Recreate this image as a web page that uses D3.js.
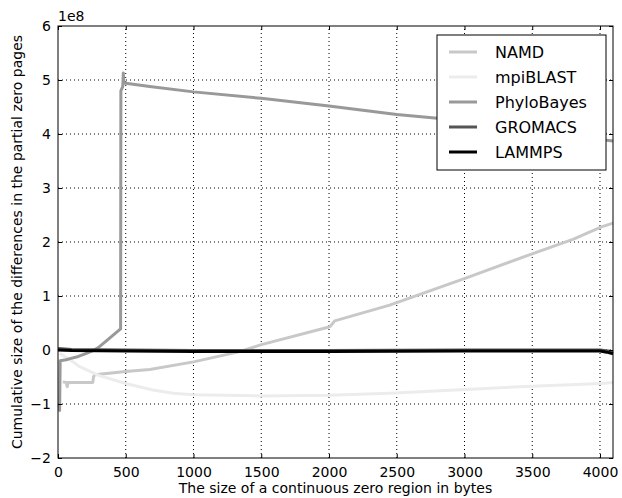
<!DOCTYPE html>
<html>
<head>
<meta charset="utf-8">
<script src="https://cdn.jsdelivr.net/npm/d3@7"></script>
<style>
  body { margin: 0; background: #fff; }
  text { font-family: "DejaVu Sans", sans-serif; }
</style>
</head>
<body>
<div id="chart"></div>
<script>
// series names + colours (grayscale)
const seriesNames = ["NAMD", "mpiBLAST", "PhyloBayes", "GROMACS", "LAMMPS"];
const seriesColors = ["#c8c8c8", "#ececec", "#999999", "#555555", "#000000"];

// [bytes, value in 1e8]
const namd = [[35,-0.59],[60,-0.6],[68,-0.68],[75,-0.6],[150,-0.6],[257,-0.6],[262,-0.5],[270,-0.46],[500,-0.4],[677,-0.36],[1000,-0.22],[1341,-0.03],[1501,0.1],[1993,0.42],[2010,0.44],[2042,0.54],[2448,0.83],[3009,1.33],[3509,1.79],[3800,2.05],[4011,2.28],[4096,2.35]];
const mpiblast = [[13,-0.06],[60,-0.14],[111,-0.22],[160,-0.31],[300,-0.47],[500,-0.62],[700,-0.74],[849,-0.8],[1000,-0.83],[1500,-0.85],[2000,-0.84],[2448,-0.8],[3009,-0.73],[3500,-0.67],[4011,-0.62],[4096,-0.6]];
const phylobayes = [[8,-1.0],[12,-1.12],[16,-0.2],[60,-0.18],[90,-0.16],[150,-0.12],[200,-0.07],[250,-0.02],[295,0.04],[357,0.17],[418,0.3],[462,0.39],[464,4.8],[478,4.88],[482,5.13],[486,4.95],[500,4.94],[677,4.88],[1000,4.78],[1500,4.66],[2000,4.52],[2500,4.36],[2800,4.29],[3000,4.24],[3500,4.1],[4000,3.9],[4096,3.87]];
const gromacs = [[0,0.03],[50,0.02],[100,0.01],[500,0.0],[1000,-0.01],[2000,-0.01],[3000,0.0],[4000,0.0],[4060,-0.02],[4096,-0.03]];
const lammps = [[0,0.0],[100,-0.01],[500,-0.02],[1000,-0.03],[2000,-0.03],[3000,-0.02],[4000,-0.02],[4050,-0.04],[4096,-0.07]];
const seriesData = [namd, mpiblast, phylobayes, gromacs, lammps];

const xTicks = [0, 500, 1000, 1500, 2000, 2500, 3000, 3500, 4000];
const yTicks = [-2, -1, 0, 1, 2, 3, 4, 5, 6];

const W = 622, H = 498;
const margin = {top: 26, right: 9, bottom: 40, left: 58};

const x = d3.scaleLinear().domain([0, 4096]).range([margin.left, W - margin.right]);
const y = d3.scaleLinear().domain([-2, 6]).range([H - margin.bottom, margin.top]);

const svg = d3.select("#chart").append("svg")
    .attr("width", W)
    .attr("height", H);

// grid
svg.append("g")
    .selectAll("line")
    .data(xTicks.filter(d => d > 0))
    .enter().append("line")
    .attr("x1", d => x(d)).attr("x2", d => x(d))
    .attr("y1", y(-2)).attr("y2", y(6))
    .attr("stroke", "#000").attr("stroke-width", 1)
    .attr("stroke-dasharray", "1,3");
svg.append("g")
    .selectAll("line")
    .data(yTicks.filter(d => d > -2 && d < 6))
    .enter().append("line")
    .attr("x1", x(0)).attr("x2", x(4096))
    .attr("y1", d => y(d)).attr("y2", d => y(d))
    .attr("stroke", "#000").attr("stroke-width", 1)
    .attr("stroke-dasharray", "1,3");

// lines
const line = d3.line()
    .x(d => x(d[0]))
    .y(d => y(d[1]));

svg.append("g")
    .selectAll("path")
    .data(seriesData)
    .enter().append("path")
    .attr("d", line)
    .attr("fill", "none")
    .attr("stroke", (d, i) => seriesColors[i])
    .attr("stroke-width", 3)
    .attr("stroke-linejoin", "round");

// axes - ticks point inward, on all four sides
const fmt = d => d < 0 ? "\u2212" + Math.abs(d) : String(d);
svg.append("g")
    .attr("transform", `translate(0,${y(-2)})`)
    .call(d3.axisBottom(x).tickValues(xTicks).tickFormat(fmt).tickSizeInner(-4).tickSizeOuter(0).tickPadding(9));
svg.append("g")
    .attr("transform", `translate(${x(0)},0)`)
    .call(d3.axisLeft(y).tickValues(yTicks).tickFormat(fmt).tickSizeInner(-4).tickSizeOuter(0).tickPadding(7));
svg.append("g")
    .attr("transform", `translate(0,${y(6)})`)
    .call(d3.axisTop(x).tickValues(xTicks).tickFormat("").tickSizeInner(-4).tickSizeOuter(0));
svg.append("g")
    .attr("transform", `translate(${x(4096)},0)`)
    .call(d3.axisRight(y).tickValues(yTicks).tickFormat("").tickSizeInner(-4).tickSizeOuter(0));

svg.selectAll(".domain").remove();
svg.selectAll(".tick text")
    .attr("font-size", 14)
    .attr("font-family", "DejaVu Sans")
    .attr("fill", "#000");

// frame
svg.append("rect")
    .attr("x", x(0)).attr("y", y(6))
    .attr("width", x(4096) - x(0))
    .attr("height", y(-2) - y(6))
    .attr("fill", "none")
    .attr("stroke", "#000")
    .attr("stroke-width", 1);

// offset label
svg.append("text")
    .attr("x", x(0)).attr("y", y(6) - 5)
    .attr("font-size", 14)
    .text("1e8");

// axis labels
svg.append("text")
    .attr("x", (x(0) + x(4096)) / 2)
    .attr("y", H - 5)
    .attr("text-anchor", "middle")
    .attr("font-size", 14)
    .text("The size of a continuous zero region in bytes");

svg.append("text")
    .attr("transform", `translate(22,${(y(-2) + y(6)) / 2}) rotate(-90)`)
    .attr("text-anchor", "middle")
    .attr("font-size", 14)
    .text("Cumulative size of the differences in the partial zero pages");

// legend
const lg = svg.append("g").attr("transform", "translate(437,35)");
lg.append("rect")
    .attr("width", 169).attr("height", 135)
    .attr("fill", "#fff").attr("stroke", "#000").attr("stroke-width", 1);
const items = lg.selectAll("g.item")
    .data(seriesNames)
    .enter().append("g")
    .attr("transform", (d, i) => `translate(0,${17 + i * 25})`);
items.append("line")
    .attr("x1", 12).attr("x2", 40)
    .attr("stroke", (d, i) => seriesColors[i])
    .attr("stroke-width", 3);
items.append("text")
    .attr("x", 58).attr("y", 6)
    .attr("font-size", 16)
    .text(d => d);
</script>
</body>
</html>
